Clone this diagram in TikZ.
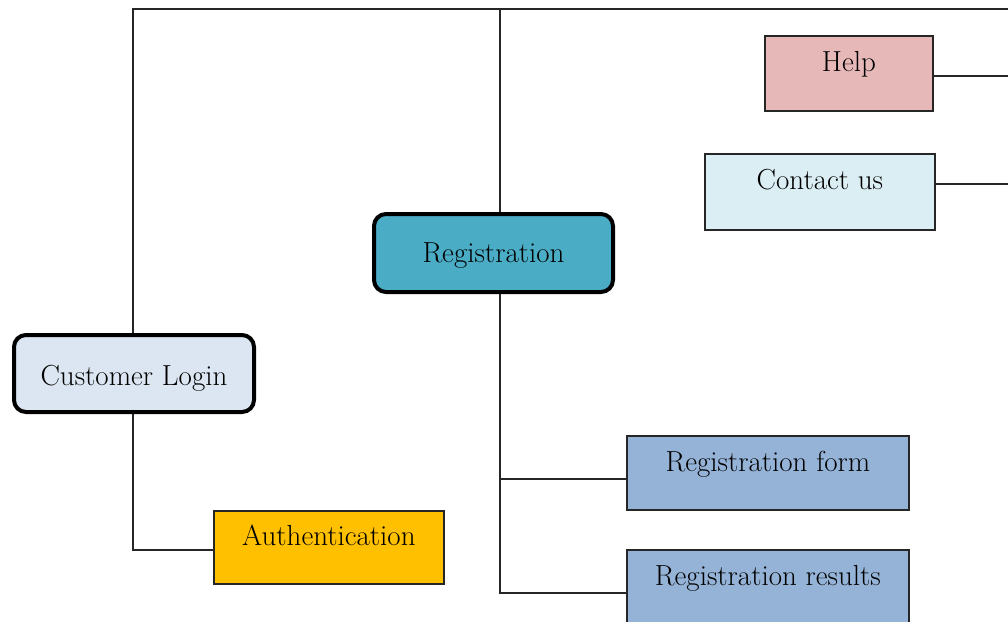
\documentclass[tikz,border=0pt]{standalone}
\usepackage{fontspec}
\usepackage{xcolor}
\definecolor{clfill}{HTML}{DCE6F2}
\definecolor{regfill}{HTML}{4BACC6}
\definecolor{helpfill}{HTML}{E6B9B8}
\definecolor{contfill}{HTML}{DBEEF3}
\definecolor{subfill}{HTML}{95B3D7}
\definecolor{authfill}{HTML}{FFC000}
\begin{document}
\begin{tikzpicture}[x=1pt,y=-1pt,
  every node/.style={font=\fontsize{29}{33}\selectfont, inner xsep=0pt, inner ysep=0pt},
  mainbox/.style={draw=black, line width=4pt, rounded corners=12pt},
  leafbox/.style={draw=black!85, line width=1.8pt},
  conn/.style={draw=black!85, line width=1.6pt}]
\useasboundingbox (0,0) rectangle (1008,621);
% nodes
\node[mainbox, fill=clfill, minimum width=240pt, text height=50pt, text depth=27pt, anchor=north west] (cl) at (12,333) {Customer Login};
\node[mainbox, fill=regfill, minimum width=239pt, text height=48pt, text depth=30pt, anchor=north west] (reg) at (372,212) {Registration};
\node[leafbox, fill=helpfill, minimum width=168pt, text height=36pt, text depth=39pt, anchor=north west] (help) at (764,35) {Help};
\node[leafbox, fill=contfill, minimum width=230pt, text height=36pt, text depth=40pt, anchor=north west] (cont) at (704,153) {Contact us};
\node[leafbox, fill=authfill, minimum width=230pt, text height=35pt, text depth=38pt, anchor=north west] (auth) at (213,510) {Authentication};
\node[leafbox, fill=subfill, minimum width=282pt, text height=36pt, text depth=38pt, anchor=north west] (rform) at (626,435) {Registration form};
\node[leafbox, fill=subfill, minimum width=282pt, text height=36pt, text depth=42pt, anchor=north west] (rres) at (626,549) {Registration results};
% connector coordinates
\coordinate (topL) at (133,9);
\coordinate (topR) at (1008,9);
\coordinate (rtop) at (500,9);
% connectors
\draw[conn] (cl.north -| topL) -- (topL) -- (topR);
\draw[conn] (rtop) -- (rtop |- reg.north);
\draw[conn] ([yshift=-2.5pt]help.east) -- ([yshift=-2.5pt]help.east -| topR);
\draw[conn] ([yshift=8pt]cont.east) -- ([yshift=8pt]cont.east -| topR);
\draw[conn] (cl.south -| topL) |- ([yshift=-2.5pt]auth.west);
\draw[conn] (rtop |- reg.south) |- ([yshift=-4pt]rres.west);
\draw[conn] ([yshift=-6pt]rform.west -| rtop) -- ([yshift=-6pt]rform.west);
\end{tikzpicture}
\end{document}
